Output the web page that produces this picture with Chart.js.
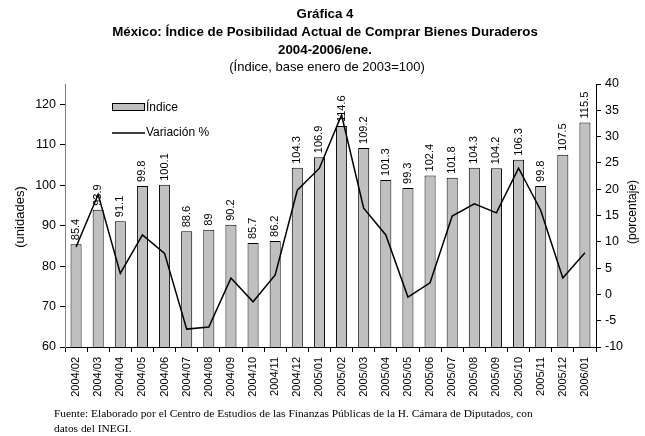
<!DOCTYPE html>
<html>
<head>
<meta charset="utf-8">
<script src="https://cdn.jsdelivr.net/npm/chart.js@4.4.0/dist/chart.umd.min.js"></script>
<style>
  html, body { margin: 0; padding: 0; background: #fff; }
</style>
</head>
<body>
<canvas id="myChart" width="645" height="436"></canvas>
<script>
// data
const months = ['2004/02', '2004/03', '2004/04', '2004/05', '2004/06', '2004/07', '2004/08', '2004/09',
  '2004/10', '2004/11', '2004/12', '2005/01', '2005/02', '2005/03', '2005/04', '2005/05', '2005/06',
  '2005/07', '2005/08', '2005/09', '2005/10', '2005/11', '2005/12', '2006/01'];
const indice = [85.4, 93.9, 91.1, 99.8, 100.1, 88.6, 89, 90.2, 85.7, 86.2, 104.3, 106.9,
  114.6, 109.2, 101.3, 99.3, 102.4, 101.8, 104.3, 104.2, 106.3, 99.8, 107.5, 115.5];
const variacion = [9, 19, 4, 11.3, 7.8, -6.6, -6.2, 3.1, -1.4, 3.7, 19.8, 24,
  34.1, 16.4, 11.3, -0.5, 2.2, 14.9, 17.2, 15.5, 24, 16, 3.1, 7.9];
const titleLines = ['Gráfica 4', 'México: Índice de Posibilidad Actual de Comprar Bienes Duraderos', '2004-2006/ene.'];
const subtitle = '(Índice, base enero de 2003=100)';
const footLines = ['Fuente: Elaborado por el Centro de Estudios de las Finanzas Públicas de la H. Cámara de Diputados, con',
  'datos del INEGI.'];

const SANS = "'Liberation Sans', Arial, sans-serif";
const SERIF = "'Liberation Serif', 'Times New Roman', serif";

const extras = {
  id: 'extras',
  afterDatasetsDraw(chart) {
    const ctx = chart.ctx;
    // value labels above bars
    const meta = chart.getDatasetMeta(1);
    ctx.save();
    ctx.fillStyle = '#000';
    ctx.font = `11px ${SANS}`;
    ctx.textAlign = 'left';
    ctx.textBaseline = 'middle';
    meta.data.forEach((el, i) => {
      ctx.save();
      ctx.translate(el.x, el.y - 4);
      ctx.rotate(-Math.PI / 2);
      ctx.fillText(String(indice[i]), 0, 0);
      ctx.restore();
    });
    ctx.restore();
  },
  afterDraw(chart) {
    const ctx = chart.ctx;
    ctx.save();
    ctx.fillStyle = '#000';
    ctx.textAlign = 'center';
    ctx.textBaseline = 'middle';
    // titles
    ctx.font = `bold 13.3px ${SANS}`;
    titleLines.forEach((t, i) => ctx.fillText(t, 325, 14 + i * 18));
    ctx.font = `13px ${SANS}`;
    ctx.fillText(subtitle, 327, 67);

    // axis titles
    ctx.font = `13px ${SANS}`;
    ctx.save();
    ctx.translate(20, 217);
    ctx.rotate(-Math.PI / 2);
    ctx.fillText('(unidades)', 0, 0);
    ctx.restore();
    ctx.font = `12px ${SANS}`;
    ctx.save();
    ctx.translate(633, 212);
    ctx.rotate(-Math.PI / 2);
    ctx.fillText('(porcentaje)', 0, 0);
    ctx.restore();

    // legend
    ctx.textAlign = 'left';
    ctx.font = `12px ${SANS}`;
    ctx.fillStyle = '#c0c0c0';
    ctx.fillRect(112.5, 103.5, 32, 7);
    ctx.strokeStyle = '#000';
    ctx.lineWidth = 1;
    ctx.strokeRect(112.5, 103.5, 32, 7);
    ctx.fillStyle = '#000';
    ctx.fillText('Índice', 146, 107.5);
    ctx.lineWidth = 1.5;
    ctx.beginPath();
    ctx.moveTo(112, 133);
    ctx.lineTo(145, 133);
    ctx.stroke();
    ctx.fillText('Variación %', 146, 133);

    // footnote
    ctx.font = `11.4px ${SERIF}`;
    footLines.forEach((t, i) => ctx.fillText(t, 54, 414 + i * 15));
    ctx.restore();
  }
};

const ctx = document.getElementById('myChart');
const myChart = new Chart(ctx, {
  type: 'bar',
  data: {
    labels: months,
    datasets: [{
      type: 'line',
      label: 'Variación %',
      data: variacion,
      yAxisID: 'y1',
      borderColor: '#000',
      borderWidth: 1.5,
      pointRadius: 0,
      tension: 0,
      fill: false,
      order: 0
    }, {
      type: 'bar',
      label: 'Índice',
      data: indice,
      yAxisID: 'y',
      backgroundColor: '#c0c0c0',
      borderColor: '#000',
      borderWidth: 1,
      borderSkipped: false,
      categoryPercentage: 1,
      barPercentage: 0.5,
      order: 1
    }]
  },
  options: {
    responsive: false,
    devicePixelRatio: 1,
    animation: false,
    layout: { padding: { top: 84, left: 8, right: 0, bottom: 29 } },
    plugins: {
      legend: { display: false },
      tooltip: { enabled: false }
    },
    scales: {
      x: {
        offset: true,
        grid: { display: true, drawOnChartArea: false, offset: true, tickLength: 5, color: '#000' },
        border: { display: true, color: '#000' },
        ticks: {
          color: '#000',
          font: { family: SANS, size: 11 },
          minRotation: 90,
          maxRotation: 90,
          autoSkip: false,
          padding: 5
        },
        afterFit(scale) { scale.height = 60; }
      },
      y: {
        position: 'left',
        min: 60,
        max: 125,
        grid: { display: true, drawOnChartArea: false, tickLength: 5, color: '#000' },
        border: { display: true, color: '#808080' },
        ticks: {
          stepSize: 10,
          includeBounds: false,
          color: '#000',
          font: { family: SANS, size: 12.5 },
          padding: 4
        },
        afterFit(scale) { scale.width = 57; }
      },
      y1: {
        position: 'right',
        min: -10,
        max: 40,
        grid: { display: true, drawOnChartArea: false, tickLength: 5, color: '#000' },
        border: { display: true, color: '#000' },
        ticks: {
          stepSize: 5,
          color: '#000',
          font: { family: SANS, size: 12.5 },
          padding: 4
        },
        afterFit(scale) { scale.width = 49; }
      }
    }
  },
  plugins: [extras]
});
</script>
</body>
</html>
